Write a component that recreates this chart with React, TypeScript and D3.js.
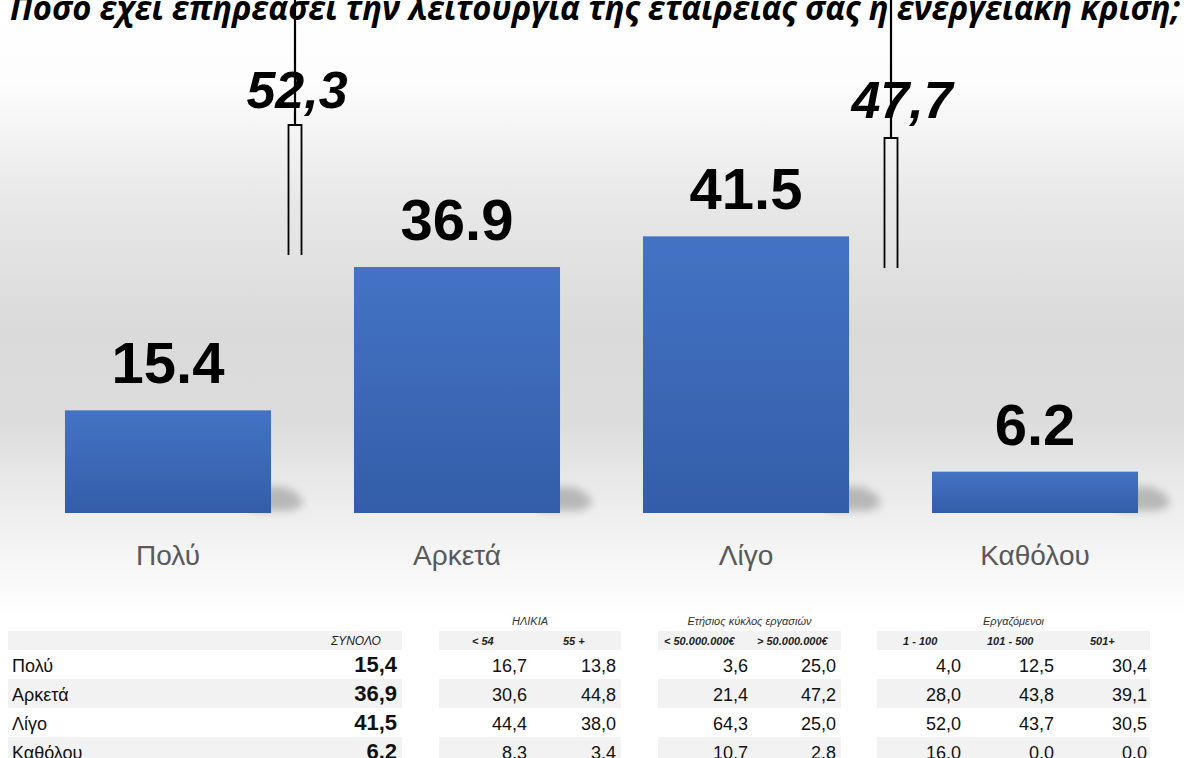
import React from "react";
import * as d3 from "d3";

const title = "Πόσο έχει επηρεάσει την λειτουργία της εταιρείας σας η ενεργειακή κρίση;";
const categories = ["Πολύ", "Αρκετά", "Λίγο", "Καθόλου"];
const values = [15.4, 36.9, 41.5, 6.2];
const bracketLabels = ["52,3", "47,7"];
const bracketValues = [52.3, 47.7];

const rowLabels = ["Πολύ", "Αρκετά", "Λίγο", "Καθόλου"];
const totalHeader = "ΣΥΝΟΛΟ";
const totalValues = ["15,4", "36,9", "41,5", "6.2"];
const ageTitle = "ΗΛΙΚΙΑ";
const ageHeaders = ["< 54", "55 +"];
const ageValues = [
  ["16,7", "13,8"],
  ["30,6", "44,8"],
  ["44,4", "38,0"],
  ["8.3", "3.4"],
];
const turnoverTitle = "Ετήσιος κύκλος εργασιών";
const turnoverHeaders = ["< 50.000.000€", "> 50.000.000€"];
const turnoverValues = [
  ["3,6", "25,0"],
  ["21,4", "47,2"],
  ["64,3", "25,0"],
  ["10.7", "2.8"],
];
const employeesTitle = "Εργαζόμενοι";
const employeesHeaders = ["1 - 100", "101 - 500", "501+"];
const employeesValues = [
  ["4,0", "12,5", "30,4"],
  ["28,0", "43,8", "39,1"],
  ["52,0", "43,7", "30,5"],
  ["16.0", "0.0", "0.0"],
];

const W = 1184;
const H = 758;
const baseY = 513;
const FONT = "'Liberation Sans', Arial, sans-serif";

export default function App() {
  const x = d3
    .scaleBand<string>()
    .domain(categories)
    .range([23.5, 1179.5])
    .paddingInner(0.287)
    .paddingOuter(0.1435);
  const y = d3.scaleLinear().domain([0, 60]).range([baseY, baseY - 400]);

  // table layout
  const rowTop = [650, 679, 708, 737];
  const rowH = 29;
  const headerTop = 631;
  const headerBottom = 650;
  const groups = [
    { title: null as string | null, band: [8, 402], headers: [totalHeader], headerX: [331], rights: [397], vals: totalValues.map((v) => [v]), bold: true },
    { title: ageTitle, band: [439, 621], headers: ageHeaders, headerX: [472, 563], rights: [527, 616], vals: ageValues, bold: false },
    { title: turnoverTitle, band: [658, 841], headers: turnoverHeaders, headerX: [664, 757], rights: [748, 836], vals: turnoverValues, bold: false },
    { title: employeesTitle, band: [877, 1150], headers: employeesHeaders, headerX: [903, 987, 1090], rights: [961, 1054, 1147], vals: employeesValues, bold: false },
  ];

  const brackets = [
    { cx: 295, half: 6.5, top: 125, bottom: 255, labelX: 297, labelY: 108 },
    { cx: 891, half: 6.5, top: 138, bottom: 268, labelX: 902, labelY: 118 },
  ];

  return (
    <svg
      width={W}
      height={H}
      style={{ position: "fixed", left: 0, top: 0, display: "block" }}
      fontFamily={FONT}
    >
      <defs>
        <linearGradient id="bg" x1="0" y1="0" x2="0" y2="620" gradientUnits="userSpaceOnUse">
          <stop offset={0 / 620} stopColor="#ffffff" />
          <stop offset={80 / 620} stopColor="#fdfdfd" />
          <stop offset={200 / 620} stopColor="#e8e8e8" />
          <stop offset={330 / 620} stopColor="#dadada" />
          <stop offset={420 / 620} stopColor="#dcdcdc" />
          <stop offset={500 / 620} stopColor="#ececec" />
          <stop offset={560 / 620} stopColor="#f6f6f6" />
          <stop offset={1} stopColor="#ffffff" />
        </linearGradient>
        <linearGradient id="bar" x1="0" y1="0" x2="0" y2="1">
          <stop offset="0" stopColor="#4473C5" />
          <stop offset="1" stopColor="#335DA8" />
        </linearGradient>
        <filter id="blur" x="-50%" y="-50%" width="200%" height="200%">
          <feGaussianBlur stdDeviation="4.5" />
        </filter>
      </defs>
      <rect x={0} y={0} width={W} height={H} fill="#ffffff" />
      <rect x={0} y={0} width={W} height={620} fill="url(#bg)" />

      {/* title */}
      <text
        x={10}
        y={20}
        fontSize={34}
        fontWeight="bold"
        fontStyle="italic"
        fill="#000"
        textLength={1170}
        lengthAdjust="spacingAndGlyphs"
        fontFamily="'Open Sans', 'Noto Sans', sans-serif"
      >
        {title}
      </text>

      {/* shadows */}
      {categories.map((c, i) => {
        const x1 = (x(c) as number) + x.bandwidth();
        return (
          <path
            key={"s" + i}
            d={`M${x1 - 20},${baseY - 2} L${x1 - 20},${baseY - 26} L${x1 + 10},${baseY - 26} Q${x1 + 30},${baseY - 22} ${x1 + 32},${baseY - 8} L${x1 + 20},${baseY - 2} Z`}
            fill="#000"
            opacity={0.22}
            filter="url(#blur)"
          />
        );
      })}

      {/* bars */}
      {categories.map((c, i) => (
        <rect
          key={"b" + i}
          x={x(c)}
          y={y(values[i])}
          width={x.bandwidth()}
          height={baseY - y(values[i])}
          fill="url(#bar)"
        />
      ))}

      {/* value labels */}
      {categories.map((c, i) => (
        <text
          key={"v" + i}
          x={(x(c) as number) + x.bandwidth() / 2}
          y={y(values[i]) - 27}
          textAnchor="middle"
          fontSize={58}
          fontWeight="bold"
          fill="#000"
        >
          {values[i].toFixed(1)}
        </text>
      ))}

      {/* category labels */}
      {categories.map((c, i) => (
        <text
          key={"c" + i}
          x={(x(c) as number) + x.bandwidth() / 2}
          y={565}
          textAnchor="middle"
          fontSize={28}
          fill="#595959"
        >
          {c}
        </text>
      ))}

      {/* brackets */}
      {brackets.map((b, i) => (
        <g key={"br" + i}>
          <line x1={b.cx} x2={b.cx} y1={0} y2={b.top} stroke="#000" strokeWidth={2.2} />
          <path
            d={`M${b.cx - b.half},${b.bottom} V${b.top} H${b.cx + b.half} V${b.bottom}`}
            fill="none"
            stroke="#000"
            strokeWidth={1.8}
          />
          <text
            x={b.labelX}
            y={b.labelY}
            textAnchor="middle"
            fontSize={52}
            fontWeight="bold"
            fontStyle="italic"
            fill="#000"
          >
            {bracketLabels[i] ?? bracketValues[i].toFixed(1)}
          </text>
        </g>
      ))}

      {/* table */}
      {groups.map((g, gi) => (
        <g key={"g" + gi}>
          <rect x={g.band[0]} y={headerTop} width={g.band[1] - g.band[0]} height={headerBottom - headerTop} fill="#f2f2f2" />
          {rowTop.map((t, ri) =>
            ri % 2 === 1 ? (
              <rect key={"rr" + ri} x={g.band[0]} y={t} width={g.band[1] - g.band[0]} height={rowH} fill="#f2f2f2" />
            ) : null
          )}
          {g.title ? (
            <text
              x={(g.band[0] + g.band[1]) / 2}
              y={625}
              textAnchor="middle"
              fontSize={11}
              fontStyle="italic"
              fill="#333"
            >
              {g.title}
            </text>
          ) : null}
          {g.headers.map((h, hi) => (
            <text
              key={"h" + hi}
              x={g.headerX[hi]}
              y={645}
              fontSize={gi === 0 ? 12 : 11}
              fontStyle="italic"
              fontWeight={gi === 0 ? "normal" : "bold"}
              fill="#222"
            >
              {h}
            </text>
          ))}
          {g.vals.map((row, ri) =>
            row.map((v, ci) => (
              <text
                key={"v" + ri + "-" + ci}
                x={g.rights[ci]}
                y={rowTop[ri] + 22}
                textAnchor="end"
                fontSize={g.bold ? 22 : 18}
                fontWeight={g.bold ? "bold" : "normal"}
                fill="#111"
              >
                {v}
              </text>
            ))
          )}
        </g>
      ))}
      {rowLabels.map((r, ri) => (
        <text key={"rl" + ri} x={12} y={rowTop[ri] + 22} fontSize={18} fill="#111">
          {r}
        </text>
      ))}
    </svg>
  );
}
